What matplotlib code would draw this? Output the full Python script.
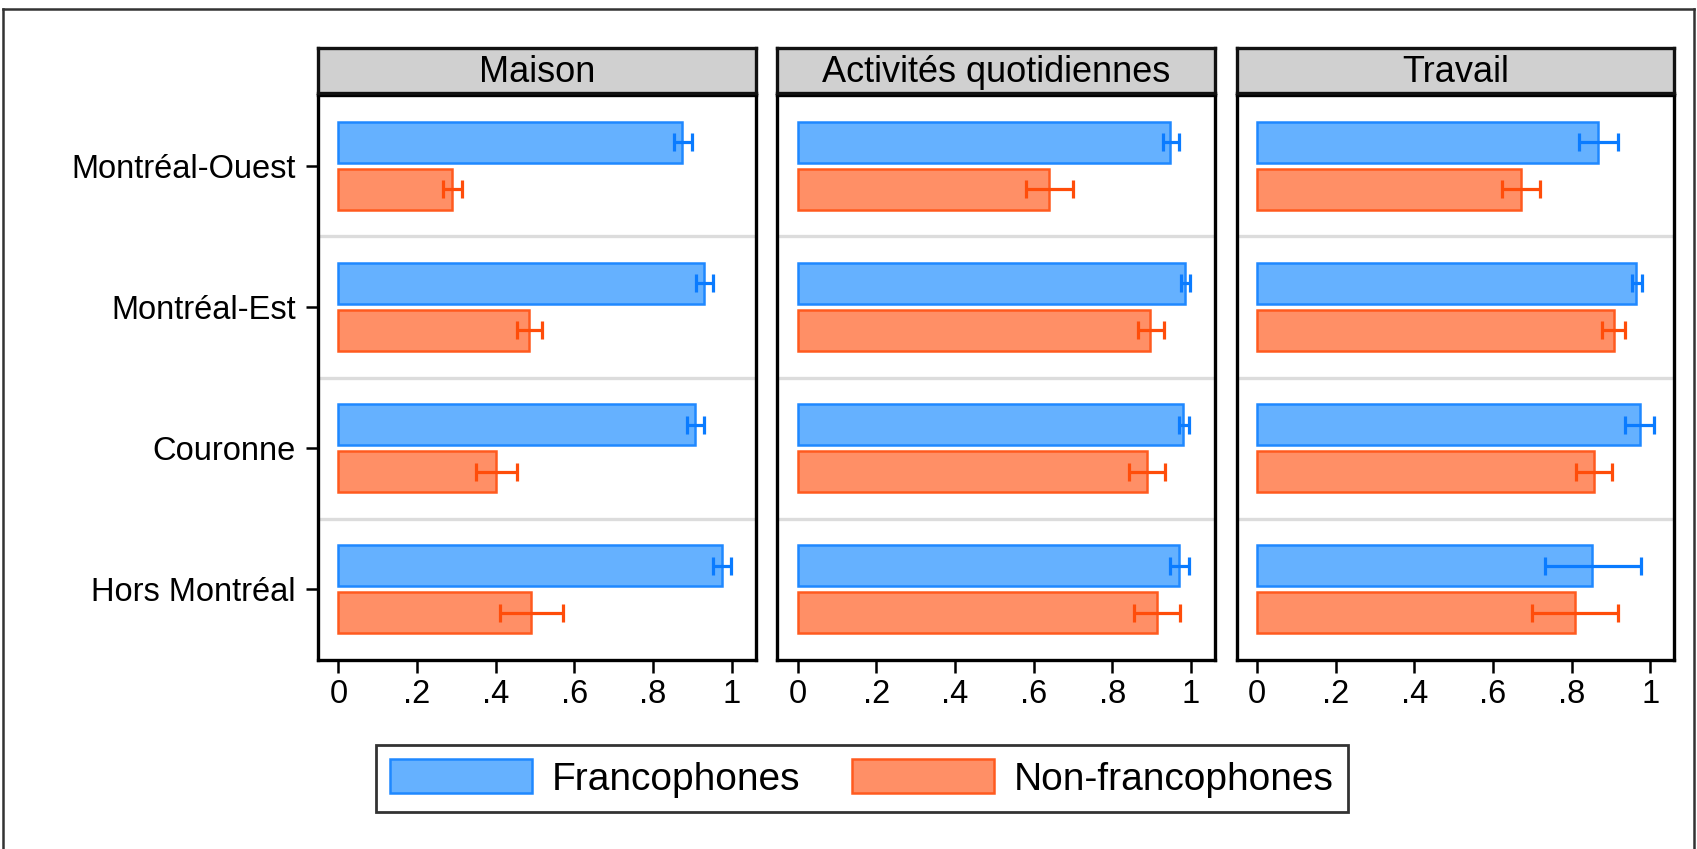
import numpy as np
import matplotlib
matplotlib.use('Agg')
import matplotlib.pyplot as plt
from matplotlib.patches import Patch
from matplotlib.lines import Line2D

plt.rcParams['font.family'] = ['Liberation Sans', 'DejaVu Sans']

# Regions (rows) and contexts (panels)
groups = ['Montréal-Ouest', 'Montréal-Est', 'Couronne', 'Hors Montréal']
panels = ['Maison', 'Activités quotidiennes', 'Travail']
xticks = [0, 0.2, 0.4, 0.6, 0.8, 1.0]
xtick_labels = ['0', '.2', '.4', '.6', '.8', '1']

# Francophones: estimate, lower CI, upper CI
maison_fr = [0.875, 0.931, 0.908, 0.975]
maison_fr_lo = [0.854, 0.910, 0.886, 0.953]
maison_fr_hi = [0.899, 0.954, 0.931, 0.999]
activ_fr = [0.947, 0.986, 0.981, 0.970]
activ_fr_lo = [0.929, 0.975, 0.969, 0.948]
activ_fr_hi = [0.969, 0.997, 0.996, 0.996]
travail_fr = [0.868, 0.964, 0.973, 0.853]
travail_fr_lo = [0.819, 0.953, 0.937, 0.733]
travail_fr_hi = [0.918, 0.980, 1.010, 0.977]

# Non-francophones
maison_nf = [0.288, 0.486, 0.401, 0.489]
maison_nf_lo = [0.265, 0.454, 0.351, 0.410]
maison_nf_hi = [0.314, 0.519, 0.454, 0.572]
activ_nf = [0.639, 0.896, 0.889, 0.914]
activ_nf_lo = [0.580, 0.866, 0.843, 0.856]
activ_nf_hi = [0.701, 0.931, 0.935, 0.973]
travail_nf = [0.670, 0.907, 0.858, 0.808]
travail_nf_lo = [0.622, 0.877, 0.812, 0.700]
travail_nf_hi = [0.720, 0.937, 0.904, 0.918]

fr_data = [(maison_fr, maison_fr_lo, maison_fr_hi),
           (activ_fr, activ_fr_lo, activ_fr_hi),
           (travail_fr, travail_fr_lo, travail_fr_hi)]
nf_data = [(maison_nf, maison_nf_lo, maison_nf_hi),
           (activ_nf, activ_nf_lo, activ_nf_hi),
           (travail_nf, travail_nf_lo, travail_nf_hi)]

fr_fill, fr_edge, fr_err = '#65b1ff', '#1f88ff', '#0a7bff'
nf_fill, nf_edge, nf_err = '#ff8f66', '#ff5a1f', '#ff4d0a'

W, H = 1697, 849
fig = plt.figure(figsize=(W / 100, H / 100), dpi=100)

# outer frame (cropped at bottom)
fig.add_artist(Line2D([3 / W, 1694 / W], [1 - 8.5 / H, 1 - 8.5 / H], transform=fig.transFigure, color='#333333', lw=1.8))
fig.add_artist(Line2D([3 / W, 3 / W], [0, 1 - 8.5 / H], transform=fig.transFigure, color='#333333', lw=1.8))
fig.add_artist(Line2D([1694 / W, 1694 / W], [0, 1 - 8.5 / H], transform=fig.transFigure, color='#333333', lw=1.8))

lefts = [318, 777.3, 1236.7]
pw = 437.5
plot_bottom, plot_top = 660, 95
strip_bottom, strip_top = 93.3, 48.3

y = np.arange(len(groups))
off = 0.166
bh = 0.29

for k, name in enumerate(panels):
    l = lefts[k] / W
    ax = fig.add_axes([l, 1 - plot_bottom / H, pw / W, (plot_bottom - plot_top) / H])
    for yy in [0.5, 1.5, 2.5]:
        ax.axhline(yy, color='#dcdcdc', lw=2.4, zorder=0)
    v, lo, hi = fr_data[k]
    ax.barh(y - off, v, height=bh, color=fr_fill, edgecolor=fr_edge, linewidth=1.8, zorder=2)
    ax.errorbar(v, y - off, xerr=[np.array(v) - np.array(lo), np.array(hi) - np.array(v)],
                fmt='none', ecolor=fr_err, elinewidth=2.3, capsize=6.5, capthick=2.3, zorder=3)
    v, lo, hi = nf_data[k]
    ax.barh(y + off, v, height=bh, color=nf_fill, edgecolor=nf_edge, linewidth=1.8, zorder=2)
    ax.errorbar(v, y + off, xerr=[np.array(v) - np.array(lo), np.array(hi) - np.array(v)],
                fmt='none', ecolor=nf_err, elinewidth=2.3, capsize=6.5, capthick=2.3, zorder=3)
    ax.set_xlim(-0.052, 1.061)
    ax.set_ylim(3.5, -0.5)
    ax.set_xticks(xticks)
    ax.set_xticklabels(xtick_labels, fontsize=23.5)
    ax.tick_params(axis='x', length=9, width=1.8, pad=5)
    if k == 0:
        ax.set_yticks(y)
        ax.set_yticklabels(groups, fontsize=23.5)
        ax.tick_params(axis='y', length=9, width=1.8, pad=7)
    else:
        ax.set_yticks([])
    for s in ax.spines.values():
        s.set_linewidth(2.4)
        s.set_color('black')

    # strip header
    sax = fig.add_axes([l, 1 - strip_bottom / H, pw / W, (strip_bottom - strip_top) / H])
    sax.set_facecolor('#d0d0d0')
    sax.set_xticks([])
    sax.set_yticks([])
    for s in sax.spines.values():
        s.set_linewidth(2.4)
        s.set_color('#111111')
    sax.text(0.5, 0.47, name, ha='center', va='center', fontsize=26, transform=sax.transAxes)

handles = [Patch(facecolor=fr_fill, edgecolor=fr_edge, linewidth=1.8, label='Francophones'),
           Patch(facecolor=nf_fill, edgecolor=nf_edge, linewidth=1.8, label='Non-francophones')]
leg = fig.legend(handles=handles, loc='center', bbox_to_anchor=(862 / W, 1 - 778.5 / H), ncol=2,
                 fontsize=28, frameon=True, fancybox=False, edgecolor='black',
                 handlelength=3.65, handleheight=0.95, handletextpad=0.52, columnspacing=1.32,
                 borderpad=0.36)
leg.get_frame().set_linewidth(2.0)

fig.savefig('out.png', dpi=100)
